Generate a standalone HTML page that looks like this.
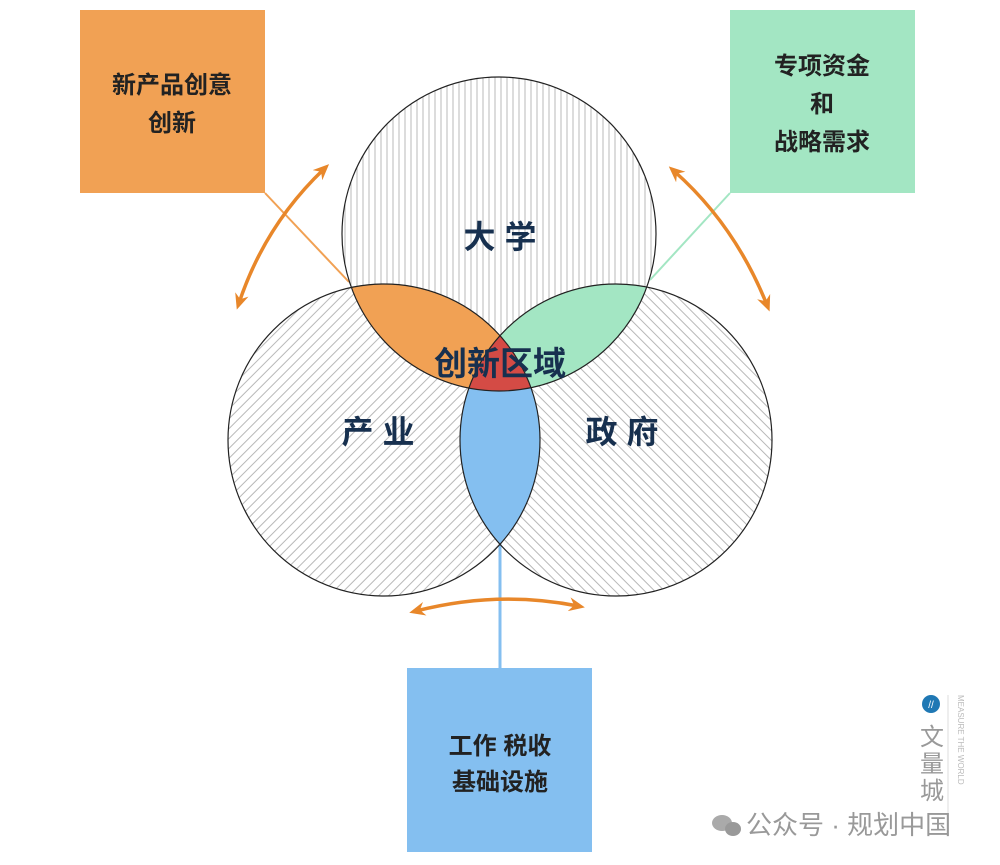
<!DOCTYPE html>
<html><head><meta charset="utf-8"><style>
html,body{margin:0;padding:0;background:#fff;}
svg{display:block;}
</style></head><body>
<svg width="1000" height="865" viewBox="0 0 1000 865" xmlns="http://www.w3.org/2000/svg" font-family="'Liberation Sans','Noto Sans CJK SC',sans-serif">
<defs>
<pattern id="pv" width="6" height="6" patternUnits="userSpaceOnUse"><line x1="3" y1="0" x2="3" y2="6" stroke="#b8b8b8" stroke-width="1"/></pattern>
<pattern id="pl" width="7" height="7" patternUnits="userSpaceOnUse" patternTransform="rotate(45)"><line x1="3" y1="0" x2="3" y2="7" stroke="#b8b8b8" stroke-width="1"/></pattern>
<pattern id="pr" width="7" height="7" patternUnits="userSpaceOnUse" patternTransform="rotate(-45)"><line x1="3" y1="0" x2="3" y2="7" stroke="#b8b8b8" stroke-width="1"/></pattern>
<clipPath id="ct"><circle cx="499" cy="234" r="157"/></clipPath>
<clipPath id="cl"><circle cx="384" cy="440" r="156"/></clipPath>
<clipPath id="cr"><circle cx="616" cy="440" r="156"/></clipPath>
<marker id="ah" markerWidth="16" markerHeight="16" refX="9" refY="8" orient="auto-start-reverse" markerUnits="userSpaceOnUse"><path d="M0,1 L16,8 L0,15 L5,8 Z" fill="#e8872a"/></marker>
</defs>
<rect x="80" y="10" width="185" height="183" fill="#f1a154"/>
<rect x="730" y="10" width="185" height="183" fill="#a3e6c3"/>
<rect x="407" y="668" width="185" height="184" fill="#84bff0"/>
<line x1="265" y1="193" x2="349" y2="282" stroke="#f1a154" stroke-width="2"/>
<line x1="730" y1="193" x2="650" y2="280" stroke="#a3e6c3" stroke-width="2"/>
<line x1="500" y1="535" x2="500" y2="668" stroke="#84bff0" stroke-width="3"/>
<circle cx="499" cy="234" r="157" fill="url(#pv)"/>
<circle cx="384" cy="440" r="156" fill="url(#pl)"/>
<circle cx="616" cy="440" r="156" fill="url(#pr)"/>
<g clip-path="url(#ct)"><circle cx="384" cy="440" r="156" fill="#f1a154"/><circle cx="616" cy="440" r="156" fill="#a3e6c3"/></g>
<g clip-path="url(#cl)"><circle cx="616" cy="440" r="156" fill="#84bff0"/></g>
<g clip-path="url(#ct)"><g clip-path="url(#cl)"><circle cx="616" cy="440" r="156" fill="#d44b45"/></g></g>
<circle cx="499" cy="234" r="157" fill="none" stroke="#222" stroke-width="1.2"/>
<circle cx="384" cy="440" r="156" fill="none" stroke="#222" stroke-width="1.2"/>
<circle cx="616" cy="440" r="156" fill="none" stroke="#222" stroke-width="1.2"/>
<path d="M239,303 Q265,225 324,169" fill="none" stroke="#e8872a" stroke-width="3.5" marker-start="url(#ah)" marker-end="url(#ah)"/>
<path d="M674,171 Q735,225 767,305" fill="none" stroke="#e8872a" stroke-width="3.5" marker-start="url(#ah)" marker-end="url(#ah)"/>
<path d="M416,611 Q498,590 578,606" fill="none" stroke="#e8872a" stroke-width="3.5" marker-start="url(#ah)" marker-end="url(#ah)"/>
<g fill="#17304f" font-weight="bold" text-anchor="middle">
<text x="500" y="248" font-size="32">大 学</text>
<text x="378" y="443" font-size="32">产 业</text>
<text x="622" y="443" font-size="32">政 府</text>
<text x="500" y="375" font-size="33">创新区域</text>
</g>
<g fill="#222" font-weight="bold" text-anchor="middle" font-size="24">
<text x="172" y="93">新产品创意</text>
<text x="172" y="131">创新</text>
<text x="822" y="74">专项资金</text>
<text x="822" y="112">和</text>
<text x="822" y="150">战略需求</text>
<text x="500" y="754">工作 税收</text>
<text x="500" y="790">基础设施</text>
</g>
<circle cx="931" cy="704" r="9" fill="#1f78b4"/>
<text x="931" y="708" font-size="10" fill="#fff" text-anchor="middle">//</text>
<g fill="#999" font-size="24" text-anchor="middle">
<text x="932" y="745">文</text><text x="932" y="772">量</text><text x="932" y="799">城</text>
</g>
<line x1="948" y1="695" x2="948" y2="815" stroke="#ddd" stroke-width="1"/>
<text x="958" y="695" font-size="8" fill="#bbb" transform="rotate(90 958 695)">MEASURE THE WORLD</text>
<ellipse cx="722" cy="823" rx="10" ry="8" fill="#aaa"/>
<ellipse cx="733" cy="829" rx="8" ry="7" fill="#999"/>
<text x="746" y="834" font-size="26" fill="#999">公众号 · 规划中国</text>
</svg>
</body></html>
